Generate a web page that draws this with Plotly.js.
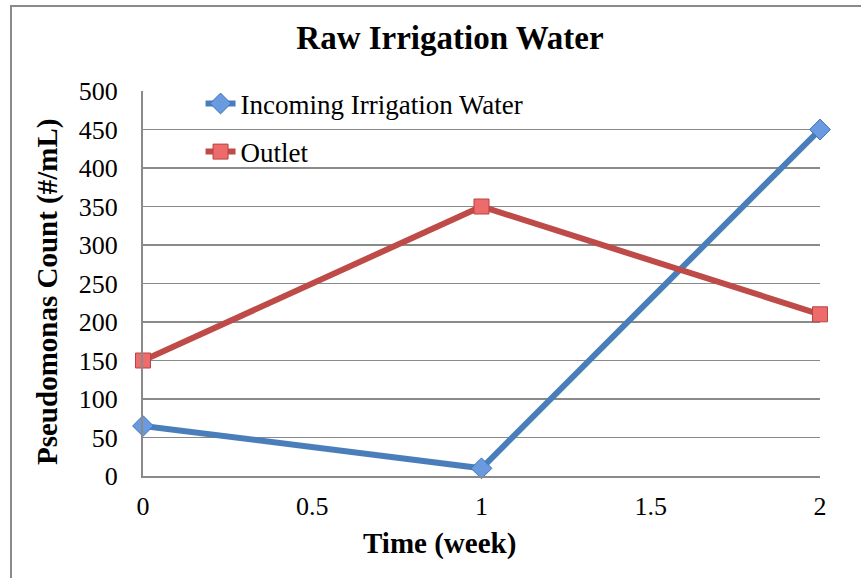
<!DOCTYPE html>
<html>
<head>
<meta charset="utf-8">
<script src="https://cdn.plot.ly/plotly-3.0.1.min.js"></script>
<style>
  html, body { margin: 0; padding: 0; background: #fff; overflow: hidden; }
  #wrap { position: relative; width: 861px; height: 578px; }
  #chart { position: absolute; left: 0; top: 0; width: 861px; height: 578px; }
  #frame { position: absolute; left: 10px; top: 5px; width: 900px; height: 640px;
           border: 2px solid #8a8a8a; box-sizing: border-box; pointer-events: none; }
</style>
</head>
<body>
<div id="wrap">
  <div id="chart"></div>
  <div id="frame"></div>
</div>
<script>
const weeks = [0, 1, 2];
const incoming = [65, 10, 450];
const outlet = [150, 350, 210];
const seriesNames = ["Incoming Irrigation Water", "Outlet"];
const xTicks = [0, 0.5, 1, 1.5, 2];
const xTickText = ["0", "0.5", "1", "1.5", "2"];
const yTicks = [0, 50, 100, 150, 200, 250, 300, 350, 400, 450, 500];

const FONT = "Liberation Serif, Times New Roman, serif";

const traces = [
  {
    x: weeks, y: incoming, name: seriesNames[0], type: "scatter", mode: "lines+markers",
    legendgroup: "a", cliponaxis: false,
    line: { color: "#4a7ebb", width: 6 },
    marker: { symbol: "diamond", size: 16, color: "#6a9be0", line: { color: "#3f72b5", width: 1 } }
  },
  {
    x: weeks, y: outlet, name: seriesNames[1], type: "scatter", mode: "lines+markers",
    legendgroup: "b", cliponaxis: false,
    line: { color: "#be4b48", width: 6 },
    marker: { symbol: "square", size: 15, color: "#ee6b6b", line: { color: "#b84542", width: 1 } }
  }
];

const layout = {
  width: 861, height: 578,
  margin: { l: 143, r: 41, t: 91, b: 102 },
  paper_bgcolor: "rgba(0,0,0,0)",
  plot_bgcolor: "#fff",
  font: { family: FONT, color: "#000", size: 26 },
  title: {
    text: "<b>Raw Irrigation Water</b>",
    font: { family: FONT, size: 33, color: "#000" },
    x: 450 / 861, xref: "container", xanchor: "center",
    y: 1 - 37 / 578, yref: "container", yanchor: "middle"
  },
  showlegend: true,
  legend: {
    x: 0.085, y: 1.03, xanchor: "left", yanchor: "top",
    bgcolor: "rgba(0,0,0,0)",
    font: { family: FONT, size: 27, color: "#000" },
    traceorder: "grouped",
    tracegroupgap: 10,
    itemwidth: 30
  },
  xaxis: {
    range: [0, 2],
    tickvals: xTicks, ticktext: xTickText,
    showgrid: false, zeroline: false,
    showline: true, linecolor: "#8a8a8a", linewidth: 2,
    ticks: "outside", ticklen: 6, tickcolor: "rgba(0,0,0,0)",
    tickfont: { family: FONT, size: 26, color: "#000" }
  },
  yaxis: {
    range: [0, 500],
    tickvals: yTicks,
    showgrid: true, gridcolor: "#8a8a8a", gridwidth: 1.5,
    zeroline: false,
    showline: true, linecolor: "#8a8a8a", linewidth: 2,
    ticks: "outside", ticklen: 18, tickcolor: "rgba(0,0,0,0)",
    tickfont: { family: FONT, size: 26, color: "#000" }
  },
  annotations: [
    {
      text: "<b>Time (week)</b>", xref: "paper", yref: "paper",
      x: (439 - 143) / 677, y: -(543 - 476) / 385,
      xanchor: "center", yanchor: "middle", showarrow: false,
      font: { family: FONT, size: 29, color: "#000" }
    },
    {
      text: "<b>Pseudomonas Count (#/mL)</b>", xref: "paper", yref: "paper",
      x: -(143 - 47) / 677, y: (476 - 292) / 385,
      xanchor: "center", yanchor: "middle", showarrow: false, textangle: -90,
      font: { family: FONT, size: 29, color: "#000" }
    }
  ]
};

Plotly.newPlot("chart", traces, layout, { displayModeBar: false, staticPlot: true });
</script>
</body>
</html>
